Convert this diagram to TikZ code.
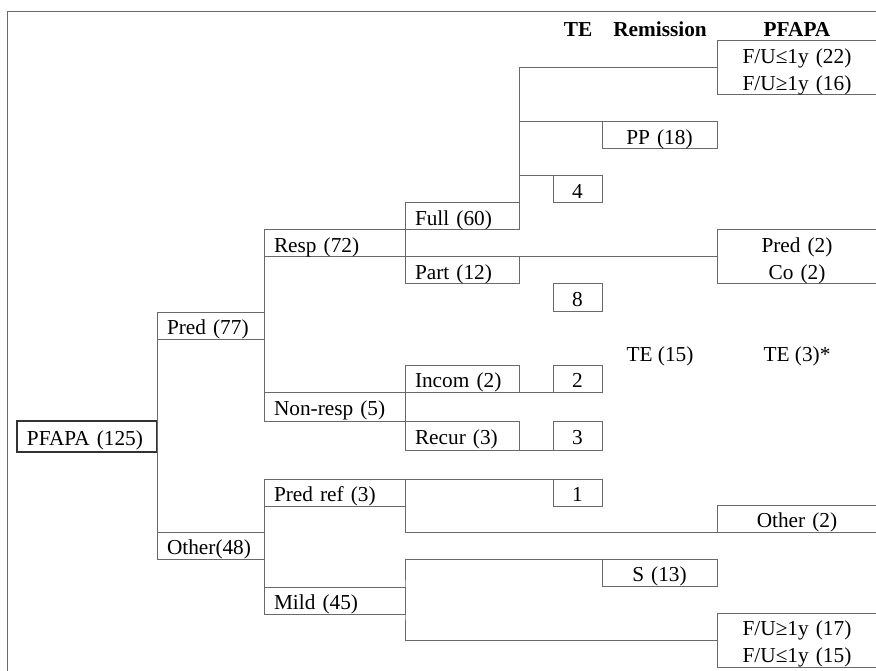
\documentclass[tikz,border=0pt]{standalone}
\usepackage{fontspec}
\setmainfont{Liberation Serif}
\definecolor{linegray}{RGB}{105,105,105}

\begin{document}
\begin{tikzpicture}[x=1pt, y=-1pt,
        font=\fontsize{21.3}{27}\selectfont,
        box/.style={rectangle, draw=linegray, line width=1pt, anchor=north west, outer sep=0pt, inner xsep=10pt, inner ysep=2.5pt, text height=20pt, text depth=2pt, minimum height=27pt},
        lbox/.style={box, align=left},
        cbox/.style={box, align=center},
        twoline/.style={cbox, text depth=29pt},
        head/.style={anchor=base, font=\fontsize{21.3}{27}\selectfont\bfseries},
        link/.style={draw=linegray, line width=1pt}]

        \useasboundingbox (0,0) rectangle (876,671);
        \clip (0,0) rectangle (876,671);
        \draw[link] (7,680) -- (7,12) -- (890,12);

        % column heads
        \node[head] (hte) at (578,37) {TE};
        \node[head] (hrem) at (660,37) {Remission};
        \node[head] (hpf) at (797,37) {PFAPA};
        \node[anchor=base] (te15) at (660,361) {TE (15)};
        \node[anchor=base] (te3s) at (797,361) {TE (3)*};

        % tree
        \node[lbox, text width=120pt, line width=1.8pt, draw=black!80, minimum height=31pt] (pfapa) at (17,421) {PFAPA (125)};
        \node[lbox, text width=87pt, minimum height=26pt] (pred) at (157,312) {Pred (77)};
        \node[lbox, text width=87pt] (other) at (157,532) {Other(48)};
        \node[lbox, text width=121pt] (resp) at (264,230) {Resp (72)};
        \node[lbox, text width=121pt, minimum height=29pt] (nonresp) at (264,392) {Non-resp (5)};
        \node[lbox, text width=121pt, minimum height=26pt] (predref) at (264,479) {Pred ref (3)};
        \node[lbox, text width=121pt, minimum height=26pt] (mild) at (264,587) {Mild (45)};
        \node[lbox, text width=94pt] (full) at (405,203) {Full (60)};
        \node[lbox, text width=94pt] (part) at (405,257) {Part (12)};
        \node[lbox, text width=94pt] (incom) at (405,365) {Incom (2)};
        \node[lbox, text width=94pt, minimum height=29pt] (recur) at (405,421) {Recur (3)};

        % TE column
        \node[cbox, text width=29pt] (te4) at (553,176) {4};
        \node[cbox, text width=29pt] (te8) at (553,284) {8};
        \node[cbox, text width=29pt] (te2) at (553,365) {2};
        \node[cbox, text width=29pt, minimum height=29pt] (te3) at (553,421) {3};
        \node[cbox, text width=29pt, minimum height=26pt] (te1) at (553,479) {1};

        % remission column
        \node[cbox, text width=95pt] (pp) at (602,122) {PP (18)};
        \node[cbox, text width=95pt] (s13) at (602,559) {S (13)};

        % PFAPA column
        \node[twoline, text width=140pt] (fu1) at (717,41) {F/U≤1y (22)\\F/U≥1y (16)};
        \node[twoline, text width=140pt] (prco) at (717,230) {Pred (2)\\Co (2)};
        \node[cbox, text width=140pt] (oth2) at (717,505) {Other (2)};
        \node[twoline, text width=140pt] (fu2) at (717,613) {F/U≥1y (17)\\F/U≤1y (15)};

        \draw[link] (pred.north west) -- (other.south west);
        \draw[link] (resp.north west) -- (nonresp.south west);
        \draw[link] (predref.north west) -- (mild.south west);
        \draw[link] (full.north west) -- (part.south west);
        \draw[link] (incom.north west) -- (recur.south west);
        \draw[link] (fu1.west) -| (full.south east);
        \draw[link] (pp.north west) -- (pp.north west -| full.east);
        \draw[link] (te4.north west) -- (te4.north west -| full.east);
        \draw[link] (part.north east) -- (prco.west);
        \draw[link] (incom.south east) -- (te2.south west);
        \draw[link] (recur.south east) -- (te3.south west);
        \draw[link] (predref.north east) -- (te1.north west);
        \draw[link] (predref.north east) |- (oth2.south west);
        \draw[link] (s13.north west) -| (mild.east) |- (fu2.west);
    \end{tikzpicture}
\end{document}
